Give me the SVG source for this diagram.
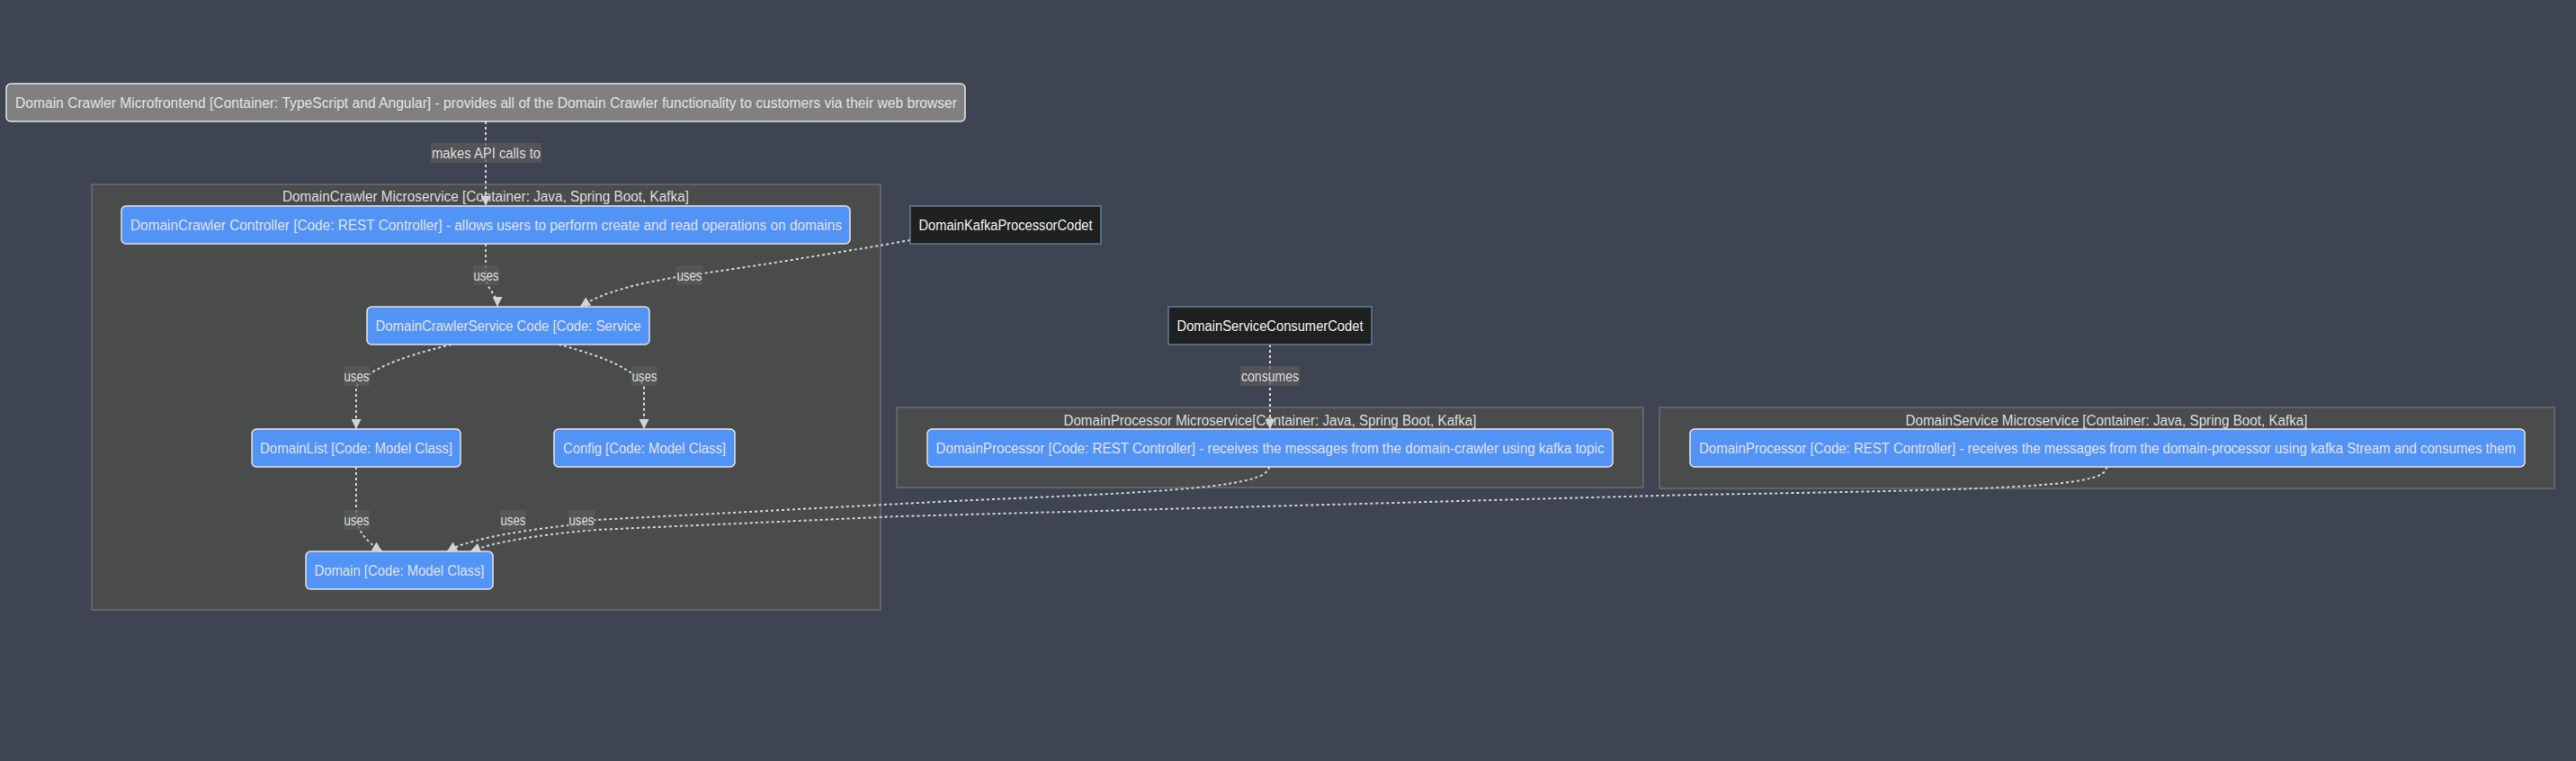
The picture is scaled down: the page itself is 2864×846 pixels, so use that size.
<svg xmlns="http://www.w3.org/2000/svg" width="2864" height="846" viewBox="0 0 2864 846">
<defs>
<style>
text{font-family:"Trebuchet MS","Liberation Sans",Arial,sans-serif;font-size:16px;text-anchor:middle;dominant-baseline:central}
.cluster rect{fill:#4a4b4b;stroke:#6b6e74;stroke-width:1.5}
.cluster text{fill:#dcdcdc}
.blue rect{fill:#5294f5;stroke:#e2e2e2;stroke-width:1.5}
.blue text{fill:#e0e0e0}
.grey rect{fill:#808080;stroke:#e6e6e6;stroke-width:1.5}
.grey text{fill:#e2e2e2}
.codet rect{fill:#1f2020;stroke:#5f7d9c;stroke-width:1.5}
.codet text{fill:#f0f0f0}
.edge{fill:none;stroke:#d3d3d3;stroke-width:2;stroke-dasharray:3 3;marker-end:url(#arrow)}
.lbl rect{fill:#5a5a5a;fill-opacity:0.75}
.lbl text{fill:#dcdcdc}
</style>
<marker id="arrow" viewBox="0 0 10 10" refX="10" refY="5" markerUnits="userSpaceOnUse" markerWidth="11" markerHeight="11" orient="auto">
<path d="M0,0 L10,5 L0,10 z" fill="#d3d3d3"/>
</marker>
</defs>
<rect x="0" y="0" width="2864" height="846" fill="#3f4452"/>

<g id="cluster-domaincrawler" class="cluster">
<rect x="102" y="205" width="877" height="473"/>
<text x="540" y="218" textLength="452" lengthAdjust="spacingAndGlyphs">DomainCrawler Microservice [Container: Java, Spring Boot, Kafka]</text>
</g>
<g id="cluster-domainprocessor" class="cluster">
<rect x="997" y="453" width="830" height="89"/>
<text x="1412" y="467" textLength="459" lengthAdjust="spacingAndGlyphs">DomainProcessor Microservice[Container: Java, Spring Boot, Kafka]</text>
</g>
<g id="cluster-domainservice" class="cluster">
<rect x="1845" y="453" width="995" height="90"/>
<text x="2342" y="467" textLength="447" lengthAdjust="spacingAndGlyphs">DomainService Microservice [Container: Java, Spring Boot, Kafka]</text>
</g>

<g id="connectors">
<path class="edge" d="M540,135 L540,229"/>
<path class="edge" d="M540,271 L540,306 C540,322 553,326 553,341"/>
<path class="edge" d="M1012,267 Q880,290 767,306 Q680,318 645,341"/>
<path class="edge" d="M502,383 Q410,405 396,430 L396,477"/>
<path class="edge" d="M621,383 Q705,405 716,430 L716,477"/>
<path class="edge" d="M396,519 L396,575 Q398,597 425,613"/>
<path class="edge" d="M1412,383 L1412,477"/>
<path class="edge" d="M1411,519 C1411,545 1250,548 1040,558 L662,578 L632,584 Q525,596 497,613"/>
<path class="edge" d="M2342,519 C2342,541 2250,544 1880,550 L1000,574 L662,589 Q560,598 523,613"/>
<g class="lbl">
<rect x="479" y="159" width="123" height="22"/><text x="540.5" y="170" textLength="121" lengthAdjust="spacingAndGlyphs">makes API calls to</text>
<rect x="526" y="295" width="29" height="22"/><text x="540.5" y="306" textLength="28" lengthAdjust="spacingAndGlyphs">uses</text>
<rect x="752" y="295" width="29" height="22"/><text x="766.5" y="306" textLength="28" lengthAdjust="spacingAndGlyphs">uses</text>
<rect x="382" y="407" width="29" height="22"/><text x="396.5" y="418" textLength="28" lengthAdjust="spacingAndGlyphs">uses</text>
<rect x="702" y="407" width="29" height="22"/><text x="716.5" y="418" textLength="28" lengthAdjust="spacingAndGlyphs">uses</text>
<rect x="382" y="567" width="29" height="22"/><text x="396.5" y="578" textLength="28" lengthAdjust="spacingAndGlyphs">uses</text>
<rect x="556" y="567" width="29" height="22"/><text x="570.5" y="578" textLength="28" lengthAdjust="spacingAndGlyphs">uses</text>
<rect x="632" y="567" width="29" height="22"/><text x="646.5" y="578" textLength="28" lengthAdjust="spacingAndGlyphs">uses</text>
<rect x="1379" y="407" width="66" height="22"/><text x="1412" y="418" textLength="64" lengthAdjust="spacingAndGlyphs">consumes</text>
</g>
</g>

<g id="node-microfrontend" class="grey">
<rect x="7" y="93" width="1066" height="42" rx="5"/>
<text x="540.5" y="114" textLength="1047" lengthAdjust="spacingAndGlyphs">Domain Crawler Microfrontend [Container: TypeScript and Angular] - provides all of the Domain Crawler functionality to customers via their web browser</text>
</g>
<g id="node-controller" class="blue">
<rect x="135" y="229" width="810" height="42" rx="5"/>
<text x="540.5" y="250" textLength="791" lengthAdjust="spacingAndGlyphs">DomainCrawler Controller [Code: REST Controller] - allows users to perform create and read operations on domains</text>
</g>
<g id="node-kafkacodet" class="codet">
<rect x="1012" y="229" width="212" height="42"/>
<text x="1118" y="250" textLength="193" lengthAdjust="spacingAndGlyphs">DomainKafkaProcessorCodet</text>
</g>
<g id="node-service" class="blue">
<rect x="408" y="341" width="314" height="42" rx="5"/>
<text x="565" y="362" textLength="295" lengthAdjust="spacingAndGlyphs">DomainCrawlerService Code [Code: Service</text>
</g>
<g id="node-consumercodet" class="codet">
<rect x="1299" y="341" width="226" height="42"/>
<text x="1412" y="362" textLength="207" lengthAdjust="spacingAndGlyphs">DomainServiceConsumerCodet</text>
</g>
<g id="node-domainlist" class="blue">
<rect x="280" y="477" width="232" height="42" rx="5"/>
<text x="396" y="498" textLength="214" lengthAdjust="spacingAndGlyphs">DomainList [Code: Model Class]</text>
</g>
<g id="node-config" class="blue">
<rect x="616" y="477" width="201" height="42" rx="5"/>
<text x="716.5" y="498" textLength="181" lengthAdjust="spacingAndGlyphs">Config [Code: Model Class]</text>
</g>
<g id="node-domain" class="blue">
<rect x="340" y="613" width="208" height="42" rx="5"/>
<text x="444" y="634" textLength="189" lengthAdjust="spacingAndGlyphs">Domain [Code: Model Class]</text>
</g>
<g id="node-domainprocessor" class="blue">
<rect x="1031" y="477" width="762" height="42" rx="5"/>
<text x="1412" y="498" textLength="743" lengthAdjust="spacingAndGlyphs">DomainProcessor [Code: REST Controller] - receives the messages from the domain-crawler using kafka topic</text>
</g>
<g id="node-domainservice" class="blue">
<rect x="1879" y="477" width="928" height="42" rx="5"/>
<text x="2343" y="498" textLength="908" lengthAdjust="spacingAndGlyphs">DomainProcessor [Code: REST Controller] - receives the messages from the domain-processor using kafka Stream and consumes them</text>
</g>
</svg>
